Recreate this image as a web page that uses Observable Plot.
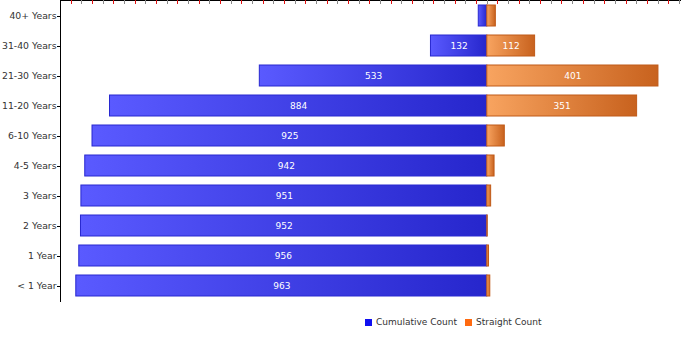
<!DOCTYPE html>
<html><head><meta charset="utf-8">
<script src="https://cdn.jsdelivr.net/npm/d3@7"></script>
<script src="https://cdn.jsdelivr.net/npm/@observablehq/plot@0.6"></script>
<style>
body{margin:0;background:#fff;font-family:"DejaVu Sans",sans-serif;}
#legend{display:flex;align-items:center;margin-top:12px;padding-left:365px;font-size:9px;color:#333;line-height:10px;}
#legend .sw{width:7px;height:7px;display:inline-block;margin-right:4px;}
#legend .item{display:flex;align-items:center;margin-right:8px;}
</style></head><body>
<div id="chart"></div>
<div id="legend"></div>
<script>
const categories = ["40+ Years","31-40 Years","21-30 Years","11-20 Years","6-10 Years","4-5 Years","3 Years","2 Years","1 Year","< 1 Year"];
const cumulative = [20,132,533,884,925,942,951,952,956,963];
const straight = [20,112,401,351,41,17,9,1,4,7];
const seriesNames = ["Cumulative Count","Straight Count"];
const seriesColors = ["#1010f0","#ff6a10"];
const xTicks = d3.range(-1000, 456, 25);

const cumRows = categories.map((c,i)=>({cat:c, v:cumulative[i]}));
const strRows = categories.map((c,i)=>({cat:c, v:straight[i]}));

const frameLines = (index, scales, values, dims) => {
  const g = d3.create("svg:g");
  const x0 = dims.marginLeft + 0.5;
  const bw = (scales.scales && scales.scales.y && scales.scales.y.bandwidth) || scales.y.bandwidth || 0;
  g.append("line")
    .attr("x1", x0).attr("x2", x0)
    .attr("y1", 0).attr("y2", dims.height - dims.marginBottom + 1).attr("stroke", "#000");
  g.append("line")
    .attr("x1", dims.marginLeft).attr("x2", dims.width - dims.marginRight)
    .attr("y1", 0.5).attr("y2", 0.5).attr("stroke", "#000");
  g.selectAll("line.t").data(xTicks.filter(d => d > -1000)).join("line")
    .attr("x1", d => Math.round(scales.x(d)) + 0.5).attr("x2", d => Math.round(scales.x(d)) + 0.5)
    .attr("y1", 0).attr("y2", 4)
    .attr("stroke", d => d % 50 === 0 ? "#888" : "#e01010");
  g.selectAll("line.y").data(categories).join("line")
    .attr("x1", dims.marginLeft - 3).attr("x2", dims.marginLeft)
    .attr("y1", d => Math.round(scales.y(d) + bw / 2) + 0.5)
    .attr("y2", d => Math.round(scales.y(d) + bw / 2) + 0.5)
    .attr("stroke", "#000");
  return g.node();
};

const plot = Plot.plot({
  width: 700, height: 305,
  marginLeft: 60, marginRight: 19, marginTop: 0, marginBottom: 4,
  style: {fontFamily: "DejaVu Sans", fontSize: "9px", color: "#333", background: "white"},
  x: {domain: [-1000, 455], axis: null},
  y: {domain: categories, range: [0.5, 300.5], paddingInner: 0.3, paddingOuter: 0.15, axis: null},
  marks: [
    Plot.barX(cumRows, {x1: 0, x2: d => -d.v, y: "cat", fill: "url(#gBlue)", stroke: "#2828d0", strokeWidth: 1}),
    Plot.barX(strRows, {x1: 0, x2: "v", y: "cat", fill: "url(#gOrange)", stroke: "#c05a18", strokeWidth: 1}),
    Plot.text(cumRows.filter(d => d.v > 50), {x: d => -d.v / 2, y: "cat", text: d => String(d.v), fill: "white", fontSize: 9}),
    Plot.text(strRows.filter(d => d.v > 50), {x: d => d.v / 2, y: "cat", text: d => String(d.v), fill: "white", fontSize: 9}),
    Plot.axisY({anchor: "left", label: null, tickSize: 0, tickPadding: 4, fontSize: 9.3, fill: "#333"}),
    frameLines
  ]
});

const defs = d3.select(plot).insert("defs", ":first-child");
const gb = defs.append("linearGradient").attr("id", "gBlue").attr("x1", 0).attr("x2", 1).attr("y1", 0).attr("y2", 0);
gb.append("stop").attr("offset", "0%").attr("stop-color", "#5a5aff");
gb.append("stop").attr("offset", "100%").attr("stop-color", "#2626cc");
const go = defs.append("linearGradient").attr("id", "gOrange").attr("x1", 0).attr("x2", 1).attr("y1", 0).attr("y2", 0);
go.append("stop").attr("offset", "0%").attr("stop-color", "#f8a460");
go.append("stop").attr("offset", "100%").attr("stop-color", "#c8621e");

document.getElementById("chart").appendChild(plot);

const legend = d3.select("#legend");
seriesNames.forEach((n, i) => {
  const it = legend.append("span").attr("class", "item");
  it.append("span").attr("class", "sw").style("background", seriesColors[i]);
  it.append("span").text(n);
});
</script>
</body></html>
